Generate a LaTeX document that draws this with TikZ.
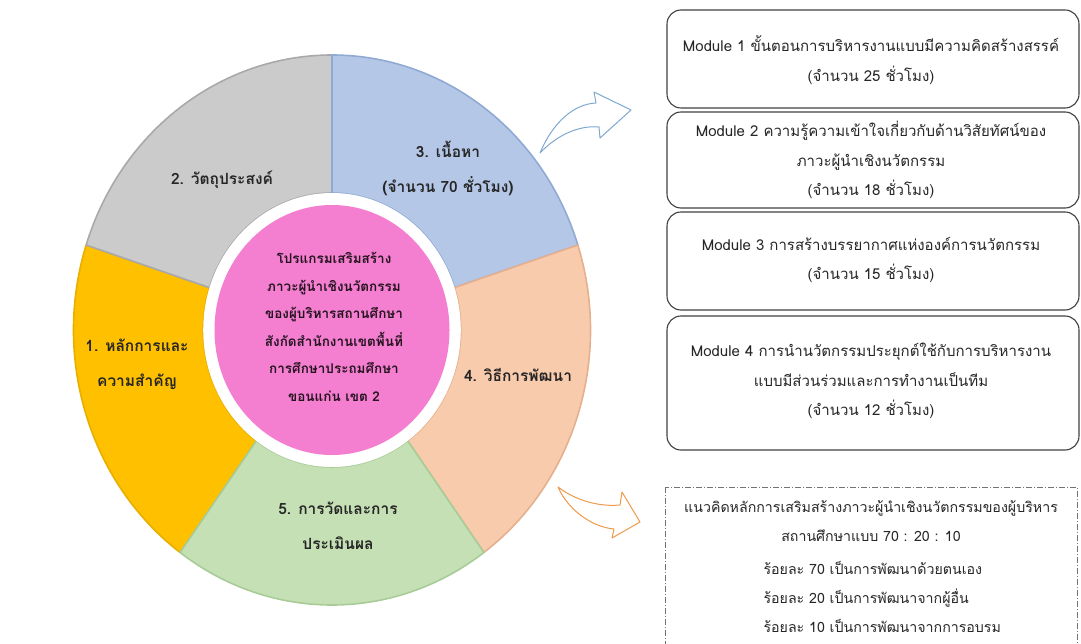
\documentclass[tikz,border=0pt]{standalone}
\usepackage{fontspec}
\setmainfont[Script=Thai]{Loma}

\definecolor{segyellow}{HTML}{FFC000}
\definecolor{lineyellow}{HTML}{E8AE00}
\definecolor{seggrey}{HTML}{CBCBCB}
\definecolor{linegrey}{HTML}{A9A9AD}
\definecolor{segblue}{HTML}{B4C7E7}
\definecolor{lineblue}{HTML}{90AAD4}
\definecolor{segorange}{HTML}{F8CBAD}
\definecolor{lineorange}{HTML}{E4B08E}
\definecolor{seggreen}{HTML}{C5E0B4}
\definecolor{linegreen}{HTML}{A8CC98}
\definecolor{hubpink}{HTML}{F47FD0}
\definecolor{arrowblue}{HTML}{7FA8D0}
\definecolor{arroworange}{HTML}{EE9A4A}

\begin{document}
\begin{tikzpicture}[x=1pt,y=1pt,
  seg/.style={line width=1.6pt, line join=round},
  seglabel/.style={font=\bfseries\fontsize{15.5}{35}\selectfont, align=center, text=black!85},
  hubtext/.style={font=\bfseries\fontsize{13.5}{27.5}\selectfont, align=center, text=black!85!hubpink},
  modbox/.style={draw=black!75, line width=1.1pt, rounded corners=14pt, minimum width=412},
  modtext/.style={font=\fontsize{15}{29.5}\selectfont, align=center, text=black!85},
  notebox/.style={draw=black!55, line width=0.7pt, dash pattern=on 6pt off 2pt on 1pt off 2pt},
  blockarrow/.style={fill=white, line width=1pt, line join=round}]
  \useasboundingbox (0,0) rectangle (1081,-644);

  % ring of five parts
  \begin{scope}[shift={(332,-330)}, xscale=0.94]
    \draw[seg, draw=lineyellow, fill=segyellow] (162:275) arc[start angle=162, end angle=234, radius=275] -- (234:137) arc[start angle=234, end angle=162, radius=137] -- cycle;
    \draw[seg, draw=linegrey, fill=seggrey] (90:275) arc[start angle=90, end angle=162, radius=275] -- (162:137) arc[start angle=162, end angle=90, radius=137] -- cycle;
    \draw[seg, draw=lineblue, fill=segblue] (18:275) arc[start angle=18, end angle=90, radius=275] -- (90:137) arc[start angle=90, end angle=18, radius=137] -- cycle;
    \draw[seg, draw=lineorange, fill=segorange] (-54:275) arc[start angle=-54, end angle=18, radius=275] -- (18:137) arc[start angle=18, end angle=-54, radius=137] -- cycle;
    \draw[seg, draw=linegreen, fill=seggreen] (-126:275) arc[start angle=-126, end angle=-54, radius=275] -- (-54:137) arc[start angle=-54, end angle=-126, radius=137] -- cycle;
    \fill[white] (0,0) circle (137);
    \fill[hubpink] (0,0) circle (125);
  \end{scope}

  \node[hubtext] (hub) at (334,-327) {โปรแกรมเสริมสร้าง\\ภาวะผู้นำเชิงนวัตกรรม\\ของผู้บริหารสถานศึกษา\\สังกัดสำนักงานเขตพื้นที่\\การศึกษาประถมศึกษา\\ขอนแก่น เขต 2};
  \node[seglabel] (principle) at (137,-364) {1. หลักการและ\\ความสำคัญ};
  \node[seglabel] (objective) at (222,-180) {2. วัตถุประสงค์};
  \node[seglabel] (content) at (448,-168) {3. เนื้อหา\\(จำนวน 70 ชั่วโมง)};
  \node[seglabel] (method) at (518,-375) {4. วิธีการพัฒนา};
  \node[seglabel] (evaluation) at (338,-526) {5. การวัดและการ\\ประเมินผล};

  % modules
  \node[modbox, minimum height=98] (mod1) at (873,-59) {};
  \node[modtext] (mod1text) at (871,-60) {Module 1 ขั้นตอนการบริหารงานแบบมีความคิดสร้างสรรค์\\(จำนวน 25 ชั่วโมง)};
  \node[modbox, minimum height=96] (mod2) at (873,-160) {};
  \node[modtext] (mod2text) at (871,-160) {Module 2 ความรู้ความเข้าใจเกี่ยวกับด้านวิสัยทัศน์ของ\\ภาวะผู้นำเชิงนวัตกรรม\\(จำนวน 18 ชั่วโมง)};
  \node[modbox, minimum height=98] (mod3) at (873,-261) {};
  \node[modtext] (mod3text) at (871,-260) {Module 3 การสร้างบรรยากาศแห่งองค์การนวัตกรรม\\(จำนวน 15 ชั่วโมง)};
  \node[modbox, minimum height=134] (mod4) at (873,-383) {};
  \node[modtext] (mod4text) at (871,-381) {Module 4 การนำนวัตกรรมประยุกต์ใช้กับการบริหารงาน\\แบบมีส่วนร่วมและการทำงานเป็นทีม\\(จำนวน 12 ชั่วโมง)};

  % 70 20 10
  \draw[notebox] (665,-487) rectangle (1077,-660);
  \node[modtext, font=\fontsize{14.2}{29}\selectfont] (ratio) at (871,-521) {แนวคิดหลักการเสริมสร้างภาวะผู้นำเชิงนวัตกรรมของผู้บริหาร\\สถานศึกษาแบบ 70 : 20 : 10};
  \node[modtext, font=\fontsize{14.2}{29}\selectfont, align=left, anchor=west] (ratiolist) at (760,-597) {ร้อยละ 70 เป็นการพัฒนาด้วยตนเอง\\ร้อยละ 20 เป็นการพัฒนาจากผู้อื่น\\ร้อยละ 10 เป็นการพัฒนาจากการอบรม};

  % block arrows
  \draw[blockarrow, draw=arrowblue] (540,-153) .. controls (553,-122) and (574,-104) .. (596,-103) -- (594,-92) -- (631,-110) -- (600,-138) -- (599,-127) .. controls (578,-125) and (556,-136) .. cycle;
  \draw[blockarrow, draw=arroworange] (558,-487) .. controls (575,-500) and (598,-507) .. (620,-505) -- (622,-492) -- (640,-522) -- (612,-538) -- (614,-529) .. controls (592,-527) and (568,-510) .. cycle;
\end{tikzpicture}
\end{document}
